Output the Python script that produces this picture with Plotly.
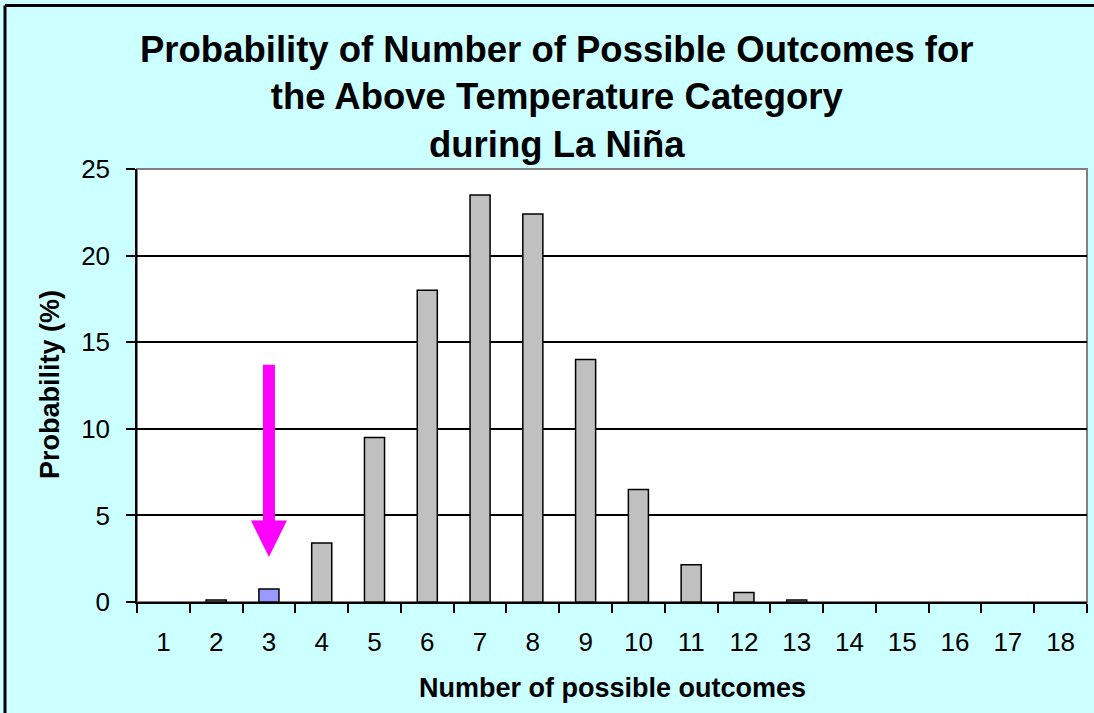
import plotly.graph_objects as go

# ---- data ----
categories = [str(i) for i in range(1, 19)]
probability = [0.0, 0.12, 0.75, 3.4, 9.5, 18.0, 23.5, 22.4, 14.0, 6.5, 2.15, 0.55, 0.12, 0, 0, 0, 0, 0]
highlight_category = "3"
y_ticks = [0, 5, 10, 15, 20, 25]

title_lines = ["Probability of Number of Possible Outcomes for",
               "the Above Temperature Category",
               "during La Niña"]
x_title = "Number of possible outcomes"
y_title = "Probability (%)"

# arrow annotation (data units for y, anchored at highlighted category)
arrow_top = 13.7
arrow_head_base = 4.7
arrow_tip = 2.6

FONT = "Liberation Sans, Arial, sans-serif"
bar_gray = "#C0C0C0"
bar_blue = "#9999FF"
colors = [bar_blue if c == highlight_category else bar_gray for c in categories]
bar_values = [v if v > 0 else None for v in probability]

fig = go.Figure()
fig.add_trace(go.Bar(
    x=categories, y=bar_values,
    marker=dict(color=colors, line=dict(color="#000000", width=1.5)),
    width=0.38,
))

# magenta arrow
path = (f"M -6,{arrow_top} L 6,{arrow_top} L 6,{arrow_head_base} L 18,{arrow_head_base} "
        f"L 0,{arrow_tip} L -18,{arrow_head_base} L -6,{arrow_head_base} Z")
fig.add_shape(type="path", xref="x", yref="y", xsizemode="pixel",
              xanchor=categories.index(highlight_category),
              path=path, fillcolor="#FF00FF", line=dict(width=0), layer="above")

# plot area border (gray)
fig.add_shape(type="rect", xref="paper", yref="paper", x0=0, x1=1, y0=0, y1=1,
              line=dict(color="#808080", width=2), layer="below")
# outer chart border (black): top and left edges only
left_x = (5 - 137) / 950
top_y = (602 - 5.5) / 433
fig.add_shape(type="line", xref="paper", yref="paper",
              x0=left_x, x1=(1094 - 137) / 950, y0=top_y, y1=top_y,
              line=dict(color="#000000", width=3), layer="below")
fig.add_shape(type="line", xref="paper", yref="paper",
              x0=left_x, x1=left_x, y0=(602 - 713) / 433, y1=top_y,
              line=dict(color="#000000", width=3), layer="below")

fig.update_layout(
    width=1094, height=713,
    margin=dict(l=137, r=7, t=169, b=111),
    paper_bgcolor="#CCFFFF",
    plot_bgcolor="#FFFFFF",
    showlegend=False,
    font=dict(family=FONT, color="#000000", size=26),
    bargap=0.62,
)

fig.update_xaxes(
    type="category", range=[-0.5, 17.5],
    showline=True, linecolor="#000000", linewidth=1.5,
    ticks="outside", ticklen=9, tickwidth=1.5, tickcolor="#000000",
    tickson="boundaries", showgrid=False,
    tickfont=dict(size=26, family=FONT, color="#000000"),
    ticklabelstandoff=16,
)
fig.update_yaxes(
    range=[0, 25], tickvals=y_ticks,
    showline=True, linecolor="#000000", linewidth=1.5,
    ticks="outside", ticklen=9, tickwidth=1.5, tickcolor="#000000",
    showgrid=True, gridcolor="#000000", gridwidth=1.5,
    zeroline=False,
    tickfont=dict(size=26, family=FONT, color="#000000"),
    ticklabelstandoff=11,
)

fig.add_annotation(text="<b>" + "<br>".join(title_lines) + "</b>",
                   xref="paper", yref="paper",
                   x=(557 - 137) / 950, y=(602 - 97) / 433,
                   xanchor="center", yanchor="middle", showarrow=False,
                   font=dict(size=36.5, family=FONT, color="#000000"))
fig.add_annotation(text="<b>" + x_title + "</b>", xref="paper", yref="paper",
                   x=0.5, y=(602 - 688) / 433, xanchor="center", yanchor="middle",
                   showarrow=False, font=dict(size=27, family=FONT, color="#000000"))
fig.add_annotation(text="<b>" + y_title + "</b>", xref="paper", yref="paper",
                   x=(50 - 137) / 950, y=(602 - 385) / 433, xanchor="center", yanchor="middle",
                   textangle=-90, showarrow=False,
                   font=dict(size=27, family=FONT, color="#000000"))

fig.write_html("out.html", config={"displayModeBar": False},
               post_script="document.body.style.margin='0';")
